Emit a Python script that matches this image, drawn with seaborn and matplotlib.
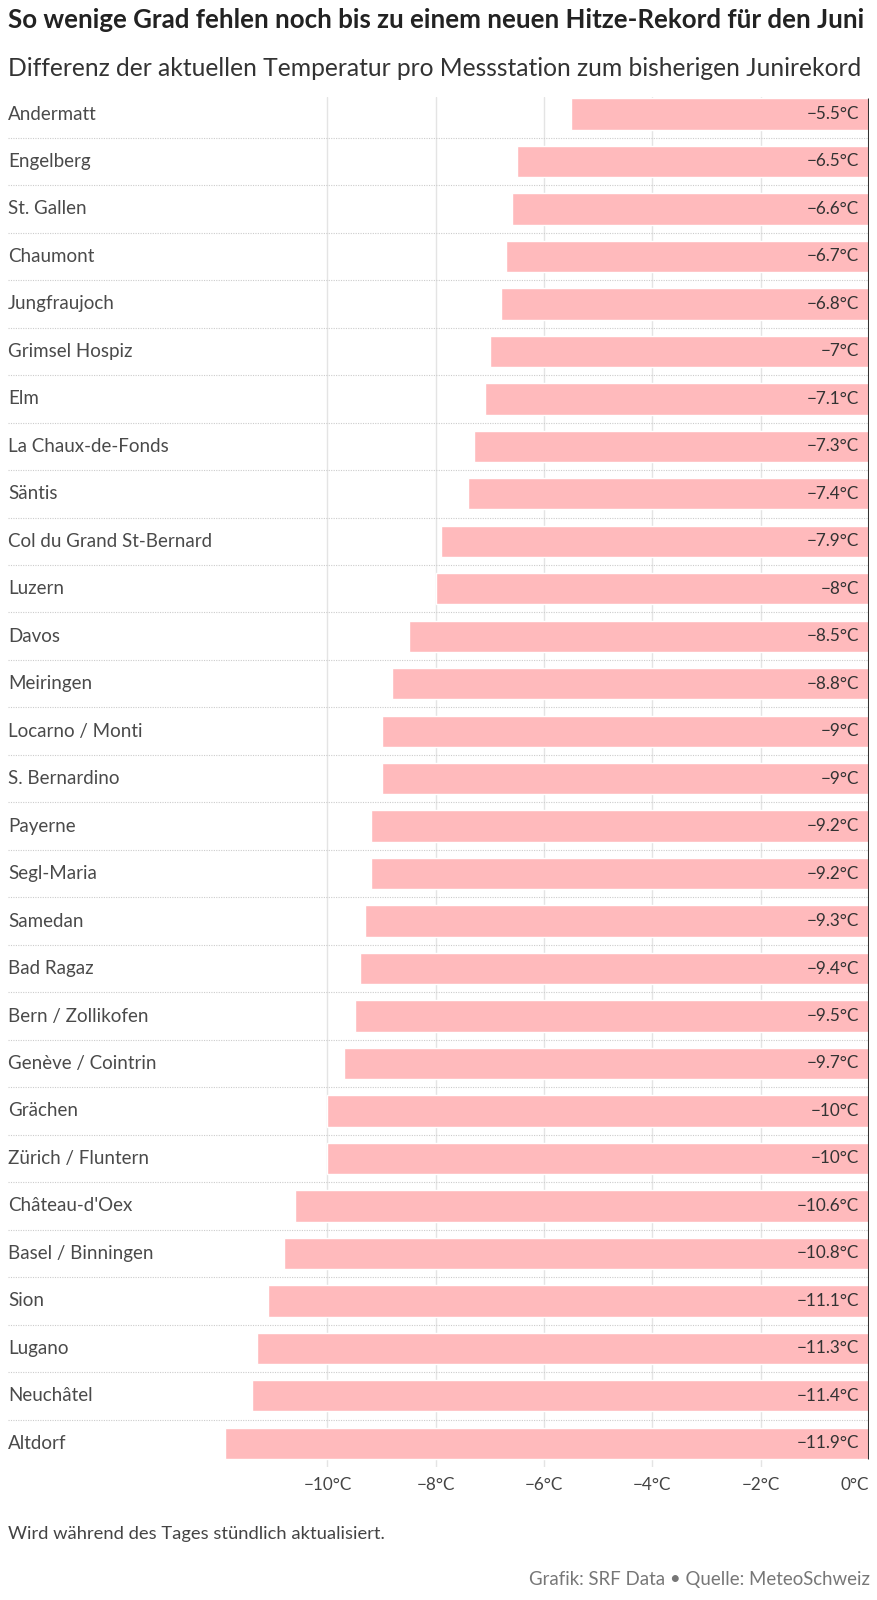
import matplotlib
matplotlib.use("Agg")
import matplotlib.pyplot as plt
import pandas as pd
import seaborn as sns

stations = [
    "Andermatt", "Engelberg", "St. Gallen", "Chaumont", "Jungfraujoch",
    "Grimsel Hospiz", "Elm", "La Chaux-de-Fonds", "Säntis",
    "Col du Grand St-Bernard", "Luzern", "Davos", "Meiringen",
    "Locarno / Monti", "S. Bernardino", "Payerne", "Segl-Maria", "Samedan",
    "Bad Ragaz", "Bern / Zollikofen", "Genève / Cointrin", "Grächen",
    "Zürich / Fluntern", "Château-d'Oex", "Basel / Binningen", "Sion",
    "Lugano", "Neuchâtel", "Altdorf",
]
diff = [
    -5.5, -6.5, -6.6, -6.7, -6.8, -7.0, -7.1, -7.3, -7.4, -7.9, -8.0, -8.5,
    -8.8, -9.0, -9.0, -9.2, -9.2, -9.3, -9.4, -9.5, -9.7, -10.0, -10.0,
    -10.6, -10.8, -11.1, -11.3, -11.4, -11.9,
]
x_ticks = [-10, -8, -6, -4, -2, 0]

title = "So wenige Grad fehlen noch bis zu einem neuen Hitze-Rekord für den Juni"
subtitle = "Differenz der aktuellen Temperatur pro Messstation zum bisherigen Junirekord"
note = "Wird während des Tages stündlich aktualisiert."
source = "Grafik: SRF Data • Quelle: MeteoSchweiz"


def fmt(v):
    s = f"{abs(v):g}"
    return ("\u2212" + s if v < 0 else s) + "°C"


df = pd.DataFrame({"station": stations, "diff": diff})

sns.set_theme(style="white")
plt.rcParams["font.family"] = ["Lato", "DejaVu Sans"]

W, H = 878, 1600
fig = plt.figure(figsize=(W / 100, H / 100), dpi=100)
top_px, bot_px = 97.4, 1467
ax = fig.add_axes([8 / W, 1 - bot_px / H, 861 / W, (bot_px - top_px) / H])

sns.barplot(data=df, y="station", x="diff", orient="h", color="#ffbabc",
            saturation=1, width=0.66, ax=ax, zorder=2)

ax.set_xlim(-15.9, 0)
ax.set_ylim(len(stations) - 1 + 0.5, -0.35)

# vertical grid, under the bars
for t in x_ticks[:-1]:
    ax.axvline(t, color="#e4e4e4", lw=1, zorder=0)
# dotted row separators
for i in range(len(stations) - 1):
    ax.plot([-15.9, 0], [i + 0.5, i + 0.5], color="#cccccc", lw=0.8,
            ls=(0, (1, 1.2)), zorder=1)
ax.vlines(0, -0.33, len(stations) - 1 + 0.33, color="#333333", lw=2.2, zorder=3)

for i, (name, v) in enumerate(zip(stations, diff)):
    ax.text(0, i, name, transform=ax.get_yaxis_transform(), ha="left",
            va="center", fontsize=13.5, color="#4a4a4a")
    ax.annotate(fmt(v), xy=(0, i), xytext=(-7, 0), textcoords="offset points",
                ha="right", va="center", fontsize=12.3, color="#333333", zorder=4)

ax.set_yticks([])
ax.set_ylabel("")
ax.set_xlabel("")
ax.set_xticks(x_ticks)
ax.set_xticklabels([fmt(t) if t != 0 else "0°C" for t in x_ticks])
ax.tick_params(axis="x", length=0, pad=7, labelsize=12.3, labelcolor="#444444")
ax.get_xticklabels()[-1].set_ha("right")
for s in ax.spines.values():
    s.set_visible(False)

fig.text(8 / W, 1 - 20 / H, title, ha="left", va="center", fontsize=18.6,
         fontweight="bold", color="#222222")
fig.text(8 / W, 1 - 68 / H, subtitle, ha="left", va="center", fontsize=17.7,
         color="#333333")
fig.text(8 / W, 1 - 1534 / H, note, ha="left", va="center", fontsize=13.2,
         color="#444444")
fig.text(870 / W, 1 - 1579 / H, source, ha="right", va="center", fontsize=13.4,
         color="#777777")

fig.savefig("out.png", dpi=100)
